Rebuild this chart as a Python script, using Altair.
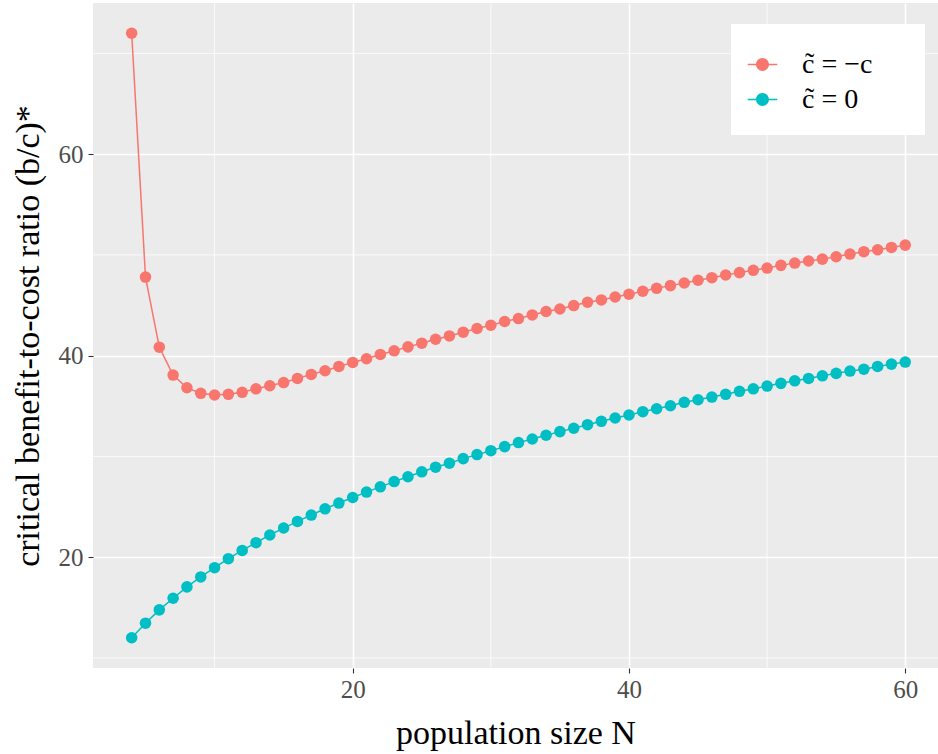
import altair as alt
import pandas as pd

FONT = "Liberation Serif"

N = list(range(4, 61))
red_vals = [72.0, 47.8, 40.84, 38.07, 36.81, 36.26, 36.09, 36.16, 36.36, 36.71,
            37.01, 37.33, 37.74, 38.14, 38.50, 38.93, 39.33, 39.69, 40.12, 40.48,
            40.87, 41.24, 41.63, 41.96, 42.33, 42.69, 43.02, 43.39, 43.68, 44.04,
            44.38, 44.63, 44.97, 45.30, 45.53, 45.82, 46.09, 46.39, 46.68, 46.95,
            47.21, 47.48, 47.74, 48.00, 48.24, 48.47, 48.69, 48.96, 49.19, 49.39,
            49.58, 49.82, 50.08, 50.32, 50.51, 50.74, 50.97]
teal_vals = [12.0, 13.45, 14.77, 15.92, 17.05, 18.04, 18.96, 19.85, 20.67, 21.44,
             22.20, 22.89, 23.55, 24.18, 24.80, 25.37, 25.92, 26.46, 26.98, 27.50,
             27.98, 28.47, 28.93, 29.33, 29.78, 30.18, 30.57, 30.97, 31.37, 31.73,
             32.10, 32.46, 32.79, 33.15, 33.48, 33.81, 34.11, 34.44, 34.73, 35.03,
             35.37, 35.62, 35.89, 36.16, 36.46, 36.71, 36.98, 37.25, 37.50, 37.74,
             38.00, 38.24, 38.47, 38.66, 38.93, 39.16, 39.36]
series_labels = ["c\u0303 = \u2212c", "c\u0303 = 0"]
series_colors = ["#F8766D", "#00BFC4"]

x_ticks = [20, 40, 60]
y_ticks = [20, 40, 60]
x_minor = [10, 30, 50]
y_minor = [10, 30, 50, 70]

x_title = "population size N"
y_title = "critical benefit-to-cost ratio (b/c)*"

NB = "\u00a0"
BLANK = "\u2800"
key_labels = [s + NB for s in series_labels]

df = pd.DataFrame({
    "N": N + N,
    "value": red_vals + teal_vals,
    "series": [series_labels[0]] * len(N) + [series_labels[1]] * len(N),
    "key": [key_labels[0]] * len(N) + [key_labels[1]] * len(N),
})

xscale = alt.Scale(domain=[1.2, 62.37], nice=False, zero=False)
yscale = alt.Scale(domain=[9, 75], nice=False, zero=False)

xaxis = alt.Axis(values=x_ticks, title=x_title, grid=True, gridColor="white",
                 gridWidth=1.5, domain=False, tickColor="#333333", tickWidth=1.1,
                 tickSize=5, labelFont=FONT, labelFontSize=25, labelColor="#4D4D4D",
                 labelPadding=4, titleFont=FONT, titleFontSize=34,
                 titleFontWeight="normal", titleColor="black", titlePadding=14)
yaxis = alt.Axis(values=y_ticks, title=y_title, grid=True, gridColor="white",
                 gridWidth=1.5, domain=False, tickColor="#333333", tickWidth=1.1,
                 tickSize=5, labelFont=FONT, labelFontSize=25, labelColor="#4D4D4D",
                 labelPadding=5, titleFont=FONT, titleFontSize=34,
                 titleFontWeight="normal", titleColor="black", titlePadding=13)

sym_path = ("M-0.8,-0.045 L0.8,-0.045 L0.8,0.045 L-0.8,0.045 Z "
            "M0.35,0 A0.35,0.35 0 1,1 -0.35,0 A0.35,0.35 0 1,1 0.35,0 Z")

common_leg = dict(orient="none", legendX=638, padding=13, rowPadding=2,
                  symbolSize=1369, labelFont=FONT, labelFontSize=28,
                  labelOffset=21)

fg_legend = alt.Legend(symbolType=sym_path, symbolStrokeWidth=0, title=None,
                       legendY=30, labelColor="black", fillColor="transparent",
                       zindex=2, **common_leg)
bg_legend = alt.Legend(symbolType="square", symbolFillColor="#F2F2F2",
                       symbolStrokeColor="#F2F2F2", symbolStrokeWidth=0,
                       symbolOpacity=1, labelOpacity=0, labelColor="white",
                       fillColor="white", zindex=1, labelExpr="''",
                       title=BLANK * 42, titleFontSize=6, titlePadding=3,
                       legendY=21, **common_leg)

color = alt.Color("series:N", scale=alt.Scale(domain=series_labels, range=series_colors),
                  legend=fg_legend)

base = alt.Chart(df)

hminor = alt.Chart(pd.DataFrame({"y": y_minor})).mark_rule(
    color="white", strokeWidth=0.75).encode(y=alt.Y("y:Q", scale=yscale, axis=yaxis))
vminor = alt.Chart(pd.DataFrame({"x": x_minor})).mark_rule(
    color="white", strokeWidth=0.75).encode(x=alt.X("x:Q", scale=xscale, axis=xaxis))

enc = dict(x=alt.X("N:Q", scale=xscale, axis=xaxis),
           y=alt.Y("value:Q", scale=yscale, axis=yaxis))

lines = base.mark_line(strokeWidth=1.5).encode(color=color, **enc)
points = base.mark_point(filled=True, size=133, opacity=1, strokeWidth=0).encode(
    color=color, **enc)
bgkeys = base.mark_point(opacity=0).encode(
    shape=alt.Shape("key:N",
                    scale=alt.Scale(domain=key_labels, range=["square", "square"]),
                    legend=bg_legend),
    **enc)

chart = alt.layer(hminor, vminor, bgkeys, lines, points).properties(
    width=845, height=665,
    padding={"left": 93, "top": 3, "right": 0, "bottom": 86},
    autosize=alt.AutoSizeParams(type="none"),
).configure_view(fill="#EBEBEB", stroke=None)

chart.save("out.html", embed_options={"renderer": "svg", "actions": False})
